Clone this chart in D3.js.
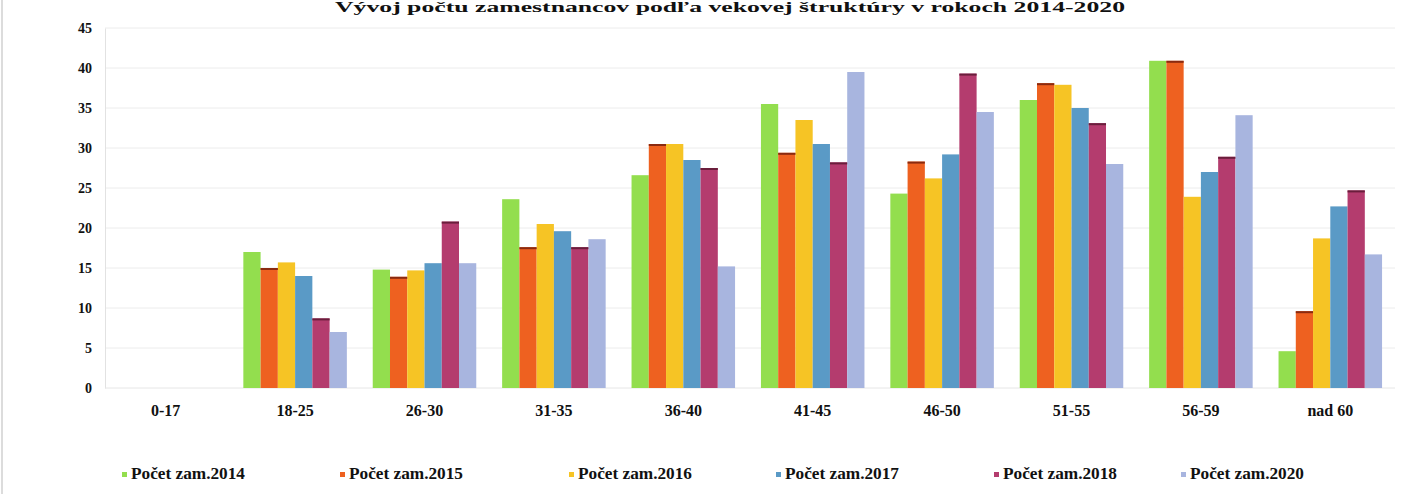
<!DOCTYPE html>
<html>
<head>
<meta charset="utf-8">
<script src="https://cdn.jsdelivr.net/npm/d3@7"></script>
<style>
  html, body { margin: 0; padding: 0; background: #fff; }
  svg { display: block; }
</style>
</head>
<body>
<svg id="chart" width="1406" height="494"></svg>
<script>
const title = "Vývoj počtu zamestnancov podľa vekovej štruktúry v rokoch 2014-2020";
const categories = ["0-17", "18-25", "26-30", "31-35", "36-40", "41-45", "46-50", "51-55", "56-59", "nad 60"];
const seriesNames = ["Počet zam.2014", "Počet zam.2015", "Počet zam.2016", "Počet zam.2017", "Počet zam.2018", "Počet zam.2020"];
const s2014 = [0, 17.0, 14.8, 23.6, 26.6, 35.5, 24.3, 36.0, 40.9, 4.6];
const s2015 = [0, 15.0, 13.9, 17.6, 30.5, 29.4, 28.3, 38.1, 40.9, 9.6];
const s2016 = [0, 15.7, 14.7, 20.5, 30.5, 33.5, 26.2, 37.9, 23.9, 18.7];
const s2017 = [0, 14.0, 15.6, 19.6, 28.5, 30.5, 29.2, 35.0, 27.0, 22.7];
const s2018 = [0, 8.7, 20.8, 17.6, 27.5, 28.2, 39.3, 33.1, 28.9, 24.7];
const s2020 = [0, 7.0, 15.6, 18.6, 15.2, 39.5, 34.5, 28.0, 34.1, 16.7];
const yTicks = [0, 5, 10, 15, 20, 25, 30, 35, 40, 45];

const seriesValues = [s2014, s2015, s2016, s2017, s2018, s2020];
const colors = ["#93DE4E", "#EE6120", "#F6C425", "#5A9AC6", "#B43C6E", "#A8B5DF"];
const topEdge = [null, "#8A2A10", null, null, "#6A1E3C", null];
const FONT = "'Liberation Serif', 'Times New Roman', serif";

const svg = d3.select("#chart");
const W = 1406, H = 494;
const m = { left: 101, right: 11 };

const x0 = d3.scaleBand().domain(categories).range([m.left, W - m.right]).paddingInner(0.2).paddingOuter(0.1);
const x1 = d3.scaleBand().domain(d3.range(seriesNames.length)).range([0, x0.bandwidth()]).padding(0);
const y = d3.scaleLinear().domain([0, 45]).range([388, 28]);

// faint left border of the scan
svg.append("line").attr("x1", 2).attr("x2", 2).attr("y1", 0).attr("y2", H)
  .attr("stroke", "#dcdcdc").attr("stroke-width", 2);

// title (sits at the very top, as in the reference)
svg.append("text")
  .attr("x", 335).attr("y", 12)
  .attr("textLength", 790).attr("lengthAdjust", "spacingAndGlyphs")
  .attr("font-family", FONT).attr("font-weight", "bold")
  .attr("font-size", 15).attr("fill", "#111")
  .text(title);

// gridlines
svg.append("g").selectAll("line").data(yTicks.filter(t => t > 0)).join("line")
  .attr("x1", 105).attr("x2", W - m.right)
  .attr("y1", d => y(d)).attr("y2", d => y(d))
  .attr("stroke", "#ececec").attr("stroke-width", 1);

// y axis
const yAxis = d3.axisLeft(y).tickValues(yTicks).tickSize(0).tickPadding(13);
const gy = svg.append("g").attr("transform", "translate(105,0)").call(yAxis);
gy.select(".domain").attr("stroke", "#e2e2e2");
gy.selectAll("text")
  .attr("font-family", FONT).attr("font-weight", "bold")
  .attr("font-size", 14).attr("fill", "#111");

// baseline
svg.append("line").attr("x1", 105).attr("x2", W - m.right)
  .attr("y1", y(0)).attr("y2", y(0)).attr("stroke", "#e6e6e6");

// x axis labels
const xAxis = d3.axisBottom(x0).tickSize(0).tickPadding(17);
const gx = svg.append("g").attr("transform", `translate(0,${y(0)})`).call(xAxis);
gx.select(".domain").remove();
gx.selectAll("text")
  .attr("font-family", FONT).attr("font-weight", "bold")
  .attr("font-size", 16).attr("fill", "#111");

// bars
const groups = svg.append("g").selectAll("g").data(categories).join("g")
  .attr("transform", d => `translate(${x0(d)},0)`);

groups.selectAll("rect")
  .data((c, ci) => seriesValues.map((vals, si) => ({ si, v: vals[ci] })))
  .join("rect")
  .attr("x", d => x1(d.si))
  .attr("width", x1.bandwidth())
  .attr("y", d => y(d.v))
  .attr("height", d => y(0) - y(d.v))
  .attr("fill", d => colors[d.si]);

groups.selectAll("line.top")
  .data((c, ci) => seriesValues.map((vals, si) => ({ si, v: vals[ci] })).filter(d => topEdge[d.si] && d.v > 0))
  .join("line").attr("class", "top")
  .attr("x1", d => x1(d.si)).attr("x2", d => x1(d.si) + x1.bandwidth())
  .attr("y1", d => y(d.v) + 1).attr("y2", d => y(d.v) + 1)
  .attr("stroke", d => topEdge[d.si]).attr("stroke-width", 2);

// legend
const legendX = [122, 340, 569, 776, 994, 1181];
const lg = svg.append("g").selectAll("g").data(seriesNames).join("g")
  .attr("transform", (d, i) => `translate(${legendX[i]},474)`);
lg.append("rect").attr("x", 0).attr("y", -2).attr("width", 5).attr("height", 5)
  .attr("fill", (d, i) => colors[i]);
lg.append("text").attr("x", 9).attr("y", 5)
  .attr("textLength", 114).attr("lengthAdjust", "spacingAndGlyphs")
  .attr("font-family", FONT).attr("font-weight", "bold")
  .attr("font-size", 16).attr("fill", "#111")
  .text(d => d);
</script>
</body>
</html>
